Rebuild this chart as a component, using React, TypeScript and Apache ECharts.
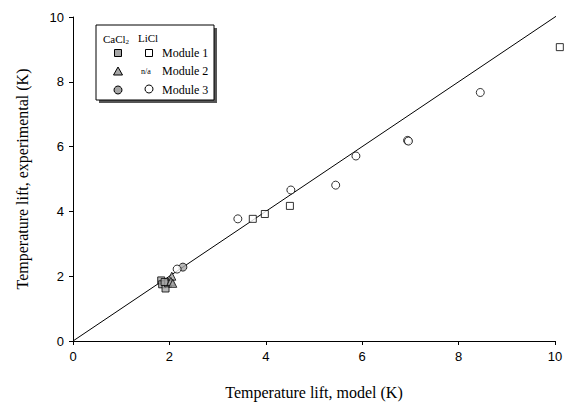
import React, { useEffect, useRef } from "react";
import * as echarts from "echarts";

const xTicks = [0, 2, 4, 6, 8, 10];
const yTicks = [0, 2, 4, 6, 8, 10];

const cacl2Module1 = [[1.83, 1.87], [1.85, 1.75], [1.92, 1.62], [1.97, 1.78], [1.9, 1.82]];
const cacl2Module2 = [[2.05, 2.0], [2.03, 1.84], [2.07, 1.78]];
const cacl2Module3 = [[2.28, 2.28]];
const liclModule1 = [[3.73, 3.77], [3.98, 3.92], [4.5, 4.17], [10.1, 9.07]];
const liclModule3 = [[2.16, 2.22], [3.42, 3.77], [4.52, 4.66], [5.45, 4.81], [5.87, 5.71], [6.94, 6.19], [6.96, 6.17], [8.45, 7.67]];
const parityLine = [[0, 0], [10.25, 10.25]];

const GRAY = "#a6a6a6";
const SERIF = "Liberation Serif";
const SANS = "Liberation Sans";

export default function App() {
  const ref = useRef<HTMLDivElement>(null);
  useEffect(() => {
    const chart = echarts.init(ref.current!, null, { renderer: "svg" });
    const mk = (name: string, data: number[][], symbol: string, size: number, fill: string) => ({
      name,
      type: "scatter",
      data,
      symbol,
      symbolSize: size,
      clip: false,
      itemStyle: { color: fill, borderColor: "#000", borderWidth: 1 },
      z: 3,
    });
    const lx = 96, ly = 25, lw = 118, lh = 75;
    chart.setOption({
      animation: false,
      backgroundColor: "#fff",
      grid: { left: 73, right: 11, top: 17, bottom: 67, containLabel: false },
      xAxis: {
        type: "value",
        min: 0,
        max: 10,
        interval: 2,
        splitLine: { show: false },
        axisLine: { lineStyle: { color: "#000", width: 1 } },
        axisTick: { inside: false, length: 4, lineStyle: { color: "#000" } },
        axisLabel: { color: "#000", fontFamily: SANS, fontSize: 13, margin: 9, formatter: (v: number) => (xTicks.includes(v) ? String(v) : "") },
        name: "Temperature lift, model (K)",
        nameLocation: "middle",
        nameGap: 43,
        nameTextStyle: { color: "#000", fontFamily: SERIF, fontSize: 16 },
      },
      yAxis: {
        type: "value",
        min: 0,
        max: 10,
        interval: 2,
        splitLine: { show: false },
        axisLine: { show: true, lineStyle: { color: "#000", width: 1 } },
        axisTick: { show: true, inside: false, length: 4, lineStyle: { color: "#000" } },
        axisLabel: { color: "#000", fontFamily: SANS, fontSize: 13, margin: 9, formatter: (v: number) => (yTicks.includes(v) ? String(v) : "") },
        name: "Temperature lift, experimental (K)",
        nameLocation: "middle",
        nameGap: 43,
        nameTextStyle: { color: "#000", fontFamily: SERIF, fontSize: 16 },
      },
      series: [
        {
          type: "line",
          data: parityLine,
          symbol: "none",
          clip: false,
          lineStyle: { color: "#000", width: 1 },
          z: 2,
        },
        mk("CaCl2 Module 1", cacl2Module1, "rect", 7, GRAY),
        mk("CaCl2 Module 2", cacl2Module2, "triangle", 8, GRAY),
        mk("CaCl2 Module 3", cacl2Module3, "circle", 8, GRAY),
        mk("LiCl Module 1", liclModule1, "rect", 7, "#fff"),
        mk("LiCl Module 3", liclModule3, "circle", 8, "#fff"),
      ],
      graphic: [
        { type: "rect", shape: { x: lx + 3, y: ly + 3, width: lw, height: lh }, style: { fill: "#555" }, z: 10 },
        { type: "rect", shape: { x: lx, y: ly, width: lw, height: lh }, style: { fill: "#fff", stroke: "#000", lineWidth: 1 }, z: 11 },
        {
          type: "text", x: 103, y: 32, z: 12,
          style: {
            text: "{a|CaCl}{s|2}", fill: "#000",
            rich: { a: { fontFamily: SERIF, fontSize: 11, fill: "#000" }, s: { fontFamily: SERIF, fontSize: 7, fill: "#000", padding: [6, 0, 0, 0] } },
          },
        },
        { type: "text", x: 138, y: 32, z: 12, style: { text: "LiCl", fontFamily: SERIF, fontSize: 11, fill: "#000" } },
        { type: "rect", shape: { x: 114.5, y: 49.5, width: 7, height: 7 }, style: { fill: GRAY, stroke: "#000", lineWidth: 1 }, z: 12 },
        { type: "rect", shape: { x: 145.5, y: 49.5, width: 7, height: 7 }, style: { fill: "#fff", stroke: "#000", lineWidth: 1 }, z: 12 },
        { type: "polygon", shape: { points: [[118, 67], [122.5, 75], [113.5, 75]] }, style: { fill: GRAY, stroke: "#000", lineWidth: 1 }, z: 12 },
        { type: "text", x: 141, y: 67, z: 12, style: { text: "n/a", fontFamily: SERIF, fontSize: 8, fill: "#000" } },
        { type: "circle", shape: { cx: 118, cy: 90, r: 4 }, style: { fill: GRAY, stroke: "#000", lineWidth: 1 }, z: 12 },
        { type: "circle", shape: { cx: 149, cy: 89, r: 4 }, style: { fill: "#fff", stroke: "#000", lineWidth: 1 }, z: 12 },
        { type: "text", x: 162, y: 47, z: 12, style: { text: "Module 1", fontFamily: SERIF, fontSize: 12, fill: "#000" } },
        { type: "text", x: 162, y: 65, z: 12, style: { text: "Module 2", fontFamily: SERIF, fontSize: 12, fill: "#000" } },
        { type: "text", x: 162, y: 84, z: 12, style: { text: "Module 3", fontFamily: SERIF, fontSize: 12, fill: "#000" } },
      ],
    });
    return () => chart.dispose();
  }, []);
  return <div ref={ref} style={{ width: 566, height: 408, position: "fixed", left: 0, top: 0 }} />;
}
